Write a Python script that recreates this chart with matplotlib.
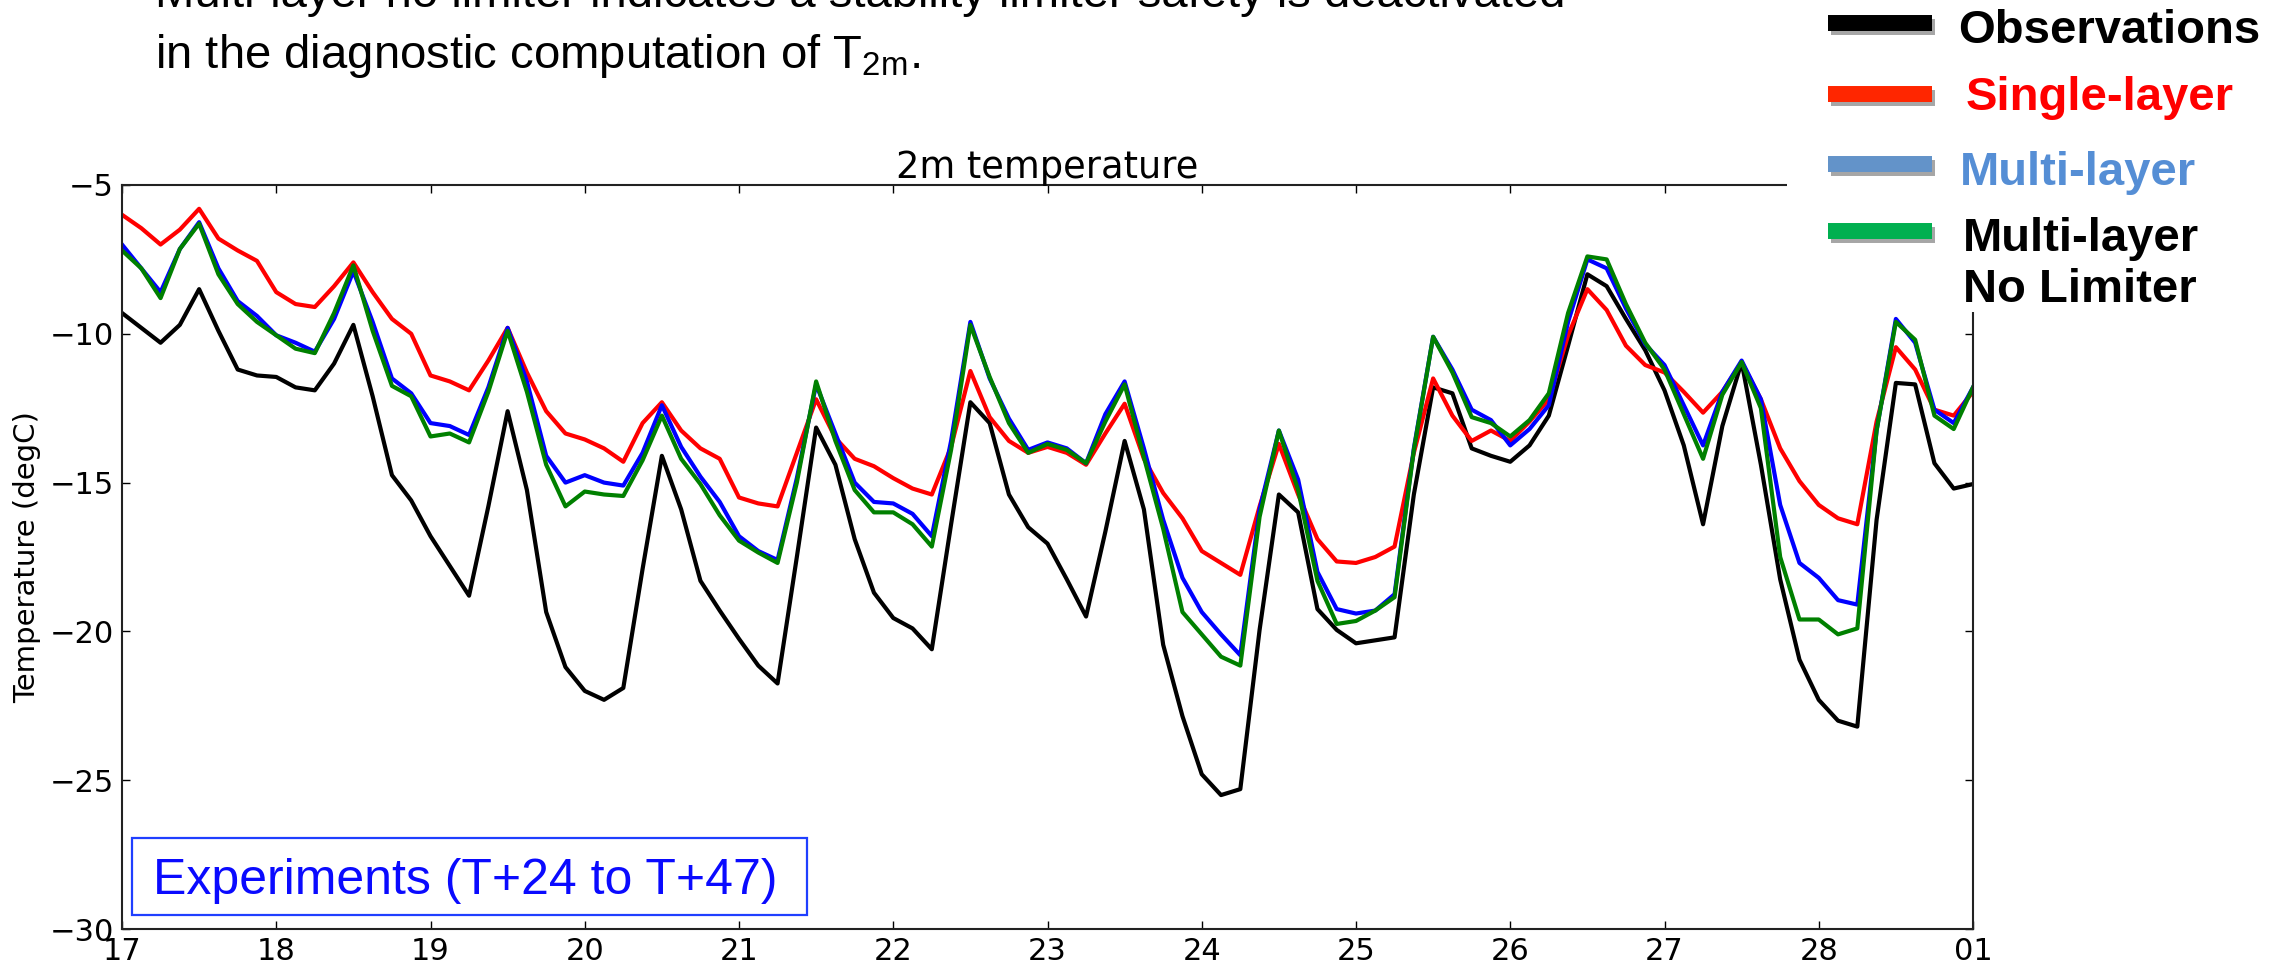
import numpy as np
import matplotlib
matplotlib.use("Agg")
import matplotlib.pyplot as plt
import matplotlib.patheffects as pe
from matplotlib.lines import Line2D
from matplotlib.patches import Rectangle

# 3-hourly samples, 17th 00h -> 01st 00h
hours = np.arange(0, 289, 3)
days = 17 + hours / 24.0

obs = [-9.3, -9.8, -10.3, -9.7, -8.5, -9.9, -11.2, -11.4,
       -11.45, -11.8, -11.9, -11.0, -9.7, -12.1, -14.75, -15.6,
       -16.8, -17.8, -18.8, -15.8, -12.6, -15.25, -19.35, -21.2,
       -22.0, -22.3, -21.9, -17.9, -14.1, -15.9, -18.3, -19.3,
       -20.25, -21.15, -21.75, -17.5, -13.15, -14.4, -16.9, -18.7,
       -19.55, -19.9, -20.6, -16.4, -12.3, -13.0, -15.4, -16.5,
       -17.05, -18.25, -19.5, -16.65, -13.6, -15.9, -20.45, -22.85,
       -24.8, -25.5, -25.3, -19.95, -15.4, -16.0, -19.25, -19.95,
       -20.4, -20.3, -20.2, -15.4, -11.8, -12.0, -13.85, -14.1,
       -14.3, -13.75, -12.75, -10.4, -8.0, -8.4, -9.5, -10.55,
       -11.9, -13.75, -16.4, -13.1, -10.95, -14.4, -18.25, -20.95,
       -22.3, -23.0, -23.2, -16.25, -11.65, -11.7, -14.35, -15.2,
       -15.05]

single = [-6.0, -6.45, -7.0, -6.5, -5.8, -6.8, -7.2, -7.55,
          -8.6, -9.0, -9.1, -8.4, -7.6, -8.6, -9.5, -10.0,
          -11.4, -11.6, -11.9, -10.9, -9.8, -11.3, -12.6, -13.35,
          -13.55, -13.85, -14.3, -13.0, -12.3, -13.25, -13.85, -14.2,
          -15.5, -15.7, -15.8, -14.0, -12.2, -13.5, -14.2, -14.45,
          -14.85, -15.2, -15.4, -13.8, -11.25, -12.8, -13.6, -14.0,
          -13.8, -14.0, -14.4, -13.35, -12.35, -14.2, -15.35, -16.2,
          -17.3, -17.7, -18.1, -15.8, -13.7, -15.4, -16.9, -17.65,
          -17.7, -17.5, -17.15, -14.0, -11.5, -12.75, -13.6, -13.25,
          -13.6, -12.95, -12.2, -10.05, -8.5, -9.2, -10.4, -11.05,
          -11.3, -11.95, -12.65, -11.95, -10.95, -12.2, -13.85, -14.95,
          -15.75, -16.2, -16.4, -12.95, -10.45, -11.2, -12.55, -12.75,
          -11.95]

multi = [-7.0, -7.8, -8.6, -7.15, -6.25, -7.8, -8.9, -9.4,
         -10.05, -10.3, -10.6, -9.5, -7.9, -9.6, -11.5, -12.0,
         -13.0, -13.1, -13.4, -11.8, -9.8, -11.6, -14.1, -15.0,
         -14.75, -15.0, -15.1, -14.0, -12.4, -13.8, -14.8, -15.65,
         -16.8, -17.3, -17.6, -14.85, -11.7, -13.35, -15.0, -15.65,
         -15.7, -16.05, -16.8, -13.6, -9.6, -11.5, -12.85, -13.9,
         -13.65, -13.85, -14.35, -12.7, -11.6, -13.85, -16.25, -18.2,
         -19.35, -20.1, -20.8, -15.9, -13.25, -14.9, -18.0, -19.25,
         -19.4, -19.3, -18.75, -13.85, -10.1, -11.2, -12.55, -12.9,
         -13.75, -13.2, -12.4, -9.6, -7.5, -7.8, -9.15, -10.35,
         -11.05, -12.4, -13.75, -11.95, -10.9, -12.2, -15.75, -17.7,
         -18.2, -18.95, -19.1, -13.25, -9.5, -10.3, -12.55, -13.0,
         -11.8]

nolim = [-7.2, -7.8, -8.8, -7.15, -6.3, -8.0, -9.0, -9.6,
         -10.05, -10.5, -10.65, -9.3, -7.7, -9.9, -11.75, -12.1,
         -13.45, -13.35, -13.65, -11.95, -9.9, -11.95, -14.4, -15.8,
         -15.3, -15.4, -15.45, -14.25, -12.75, -14.2, -15.05, -16.1,
         -16.95, -17.35, -17.7, -15.0, -11.6, -13.6, -15.25, -16.0,
         -16.0, -16.4, -17.15, -13.9, -9.7, -11.45, -13.0, -14.0,
         -13.7, -13.9, -14.35, -12.95, -11.7, -14.15, -16.55, -19.35,
         -20.1, -20.85, -21.15, -16.15, -13.25, -15.25, -18.3, -19.75,
         -19.65, -19.3, -18.85, -13.9, -10.1, -11.3, -12.8, -13.0,
         -13.45, -12.9, -12.0, -9.3, -7.4, -7.5, -9.0, -10.3,
         -11.2, -12.7, -14.2, -12.05, -10.95, -12.5, -17.5, -19.6,
         -19.6, -20.1, -19.9, -13.25, -9.6, -10.2, -12.75, -13.2,
         -11.8]

tick_days = list(range(17, 30))
tick_labels = ['17', '18', '19', '20', '21', '22', '23', '24', '25',
               '26', '27', '28', '01']
yticks = [-5, -10, -15, -20, -25, -30]

legend_names = ['Observations', 'Single-layer', 'Multi-layer', 'Multi-layer\nNo Limiter']
legend_bar_colors = ['#000000', '#ff2600', '#6393c9', '#00b050']
legend_text_colors = ['#000000', '#ff0000', '#558ed5', '#000000']

W, H = 2288, 966
fig = plt.figure(figsize=(W / 100, H / 100), dpi=100)
ax = fig.add_axes([122 / W, 1 - 929 / H, (1973 - 122) / W, (929 - 185) / H])

lw = 3.0
ax.plot(days, obs, color='k', lw=lw)
ax.plot(days, single, color='r', lw=lw)
ax.plot(days, multi, color='b', lw=lw)
ax.plot(days, nolim, color='g', lw=lw)

ax.set_xlim(17, 29)
ax.set_ylim(-30, -5)
ax.set_xticks(tick_days)
ax.set_xticklabels(tick_labels)
ax.set_yticks(yticks)
ax.tick_params(direction='in', length=6, width=1, labelsize=22,
               top=True, right=True, pad=6)
for s in ax.spines.values():
    s.set_linewidth(1.5)
    s.set_color('#222222')
ax.set_title('2m temperature', fontsize=26.5, pad=5)
ax.set_ylabel('Temperature (degC)', fontsize=21, labelpad=6)

# slide text above the plot
slide_font = 'Liberation Sans'
fig.text(155 / W, 1 - 7 / H,
         'Multi-layer no limiter indicates a stability limiter safety is deactivated',
         fontsize=34, family=slide_font, va='baseline', ha='left')
fig.text(155 / W, 1 - 68 / H,
         r'in the diagnostic computation of T$_{\mathregular{2m}}$.',
         fontsize=34, family=slide_font, va='baseline', ha='left')

# white panel that holds the pasted legend
fig.add_artist(Rectangle((1787 / W, 1 - 312 / H), 1 - 1787 / W, 312 / H,
                         transform=fig.transFigure, facecolor='white',
                         edgecolor='none', zorder=10))

bar_y = [23, 94, 164, 231]
text_base = [43, 110, 185, 251]
text_x = [1958, 1966, 1960, 1963]
for i, name in enumerate(legend_names):
    yy = 1 - bar_y[i] / H
    ln = Line2D([1828 / W, 1932 / W], [yy, yy], transform=fig.transFigure,
                color=legend_bar_colors[i], lw=11.5, solid_capstyle='butt',
                zorder=11,
                path_effects=[pe.SimpleLineShadow(offset=(2, -3), alpha=0.35),
                              pe.Normal()])
    fig.add_artist(ln)
    fig.text(text_x[i] / W, 1 - text_base[i] / H, name.split('\n')[0],
             fontsize=34, family=slide_font, weight='bold',
             color=legend_text_colors[i], va='baseline', ha='left', zorder=12)
fig.text(1963 / W, 1 - 302 / H, 'No Limiter', fontsize=34, family=slide_font,
         weight='bold', color='#000000', va='baseline', ha='left', zorder=12)

# experiments label box
fig.add_artist(Rectangle((132 / W, 1 - 915 / H), (807 - 132) / W, (915 - 838) / H,
                         transform=fig.transFigure, facecolor='white',
                         edgecolor='#1f3fff', lw=1.6, zorder=10))
fig.text(153 / W, 1 - 894 / H, 'Experiments (T+24 to T+47)', fontsize=36,
         family=slide_font, color='#0a0aff', va='baseline', ha='left', zorder=12)

fig.savefig('out.png', dpi=100)
